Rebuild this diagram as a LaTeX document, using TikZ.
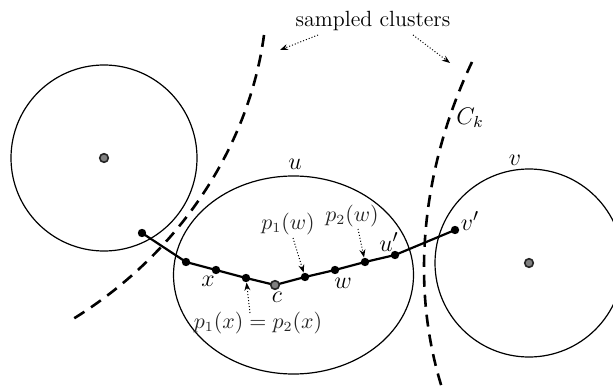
\documentclass[tikz,border=0pt]{standalone}
\usetikzlibrary{arrows.meta}
\begin{document}
\begin{tikzpicture}[x=0.5pt,y=-0.5pt,
  region/.style={draw, line width=0.6pt},
  sep/.style={line width=1.3pt, dash pattern=on 6pt off 4pt},
  pathline/.style={line width=1.1pt},
  pt/.style={circle, fill=black, inner sep=0pt, minimum size=4.2pt},
  ctr/.style={circle, fill=black!50, draw=black!85, line width=0.8pt, inner sep=0pt, minimum size=4.3pt},
  lbl/.style={font=\fontsize{11.5}{13}\selectfont, inner sep=0pt},
  plbl/.style={font=\fontsize{10.5}{12}\selectfont, text=black!85, inner sep=0pt},
  note/.style={densely dotted, line width=0.5pt, -{Stealth[length=4pt,width=3pt]}},
]
\useasboundingbox (0,0) rectangle (613,389);
\clip (0,0) rectangle (613,389);

% regions
\draw[region] (104,158) circle[radius=93];
\draw[region] (293.5,275) ellipse[x radius=120, y radius=99];
\draw[region] (529,263) circle[radius=94];

% cluster boundaries
\draw[sep] (264,35) .. controls (250,140) and (185,250) .. (73,319);
\draw[sep] (472,62) .. controls (430,150) and (405,270) .. (442,388);

% centers
\node[ctr] (cl) at (104,158) {};
\node[ctr] (cr) at (529,263) {};

% path coordinates
\coordinate (a1) at (142,233);
\coordinate (a2) at (186,262);
\coordinate (a3) at (216,270);
\coordinate (a4) at (246,278);
\coordinate (a5) at (275,285);
\coordinate (a6) at (305,277);
\coordinate (a7) at (335,270);
\coordinate (a8) at (365,262);
\coordinate (a9) at (395,255);
\coordinate (a10) at (455,230);
\draw[pathline] (a1) -- (a2) -- (a3) -- (a4) -- (a5) -- (a6) -- (a7) -- (a8) -- (a9) -- (a10);

\node[pt] (d1) at (a1) {};
\node[pt] (d2) at (a2) {};
\node[pt] (d3) at (a3) {};
\node[pt] (d4) at (a4) {};
\node[ctr] (d5) at (a5) {};
\node[pt] (d6) at (a6) {};
\node[pt] (d7) at (a7) {};
\node[pt] (d8) at (a8) {};
\node[pt] (d9) at (a9) {};
\node[pt] (d10) at (a10) {};

% labels
\node[lbl] (lu) at (295,164) {$u$};
\node[lbl] (lv) at (515,160) {$v$};
\node[lbl] (lck) at (470,118) {$C_k$};
\node[lbl] (lx) at (208,281) {$x$};
\node[lbl] (lc) at (277,297) {$c$};
\node[lbl] (lw) at (343,283) {$w$};
\node[lbl, font=\fontsize{12.5}{14}\selectfont] (lup) at (389,242) {$u^{\prime}$};
\node[lbl, font=\fontsize{12.5}{14}\selectfont] (lvp) at (470,221) {$v^{\prime}$};

\node[plbl] (p1w) at (288,224) {$p_1(w)$};
\node[plbl] (p2w) at (352,216) {$p_2(w)$};
\node[plbl] (p1x) at (258,323) {$p_1(x) = p_2(x)$};

\coordinate (s1) at (293,238);
\coordinate (s2) at (358,229);
\coordinate (s3) at (250,313);
\draw[note] (s1) -- (d6);
\draw[note] (s2) -- (d8);
\draw[note] (s3) -- (d4);

% sampled clusters
\node[font=\fontsize{11}{13}\selectfont] (sc) at (373,21) {sampled clusters};
\coordinate (t1) at (318,35);
\coordinate (t2) at (413,35);
\coordinate (h1) at (280,50);
\coordinate (h2) at (450,63);
\draw[note] (t1) -- (h1);
\draw[note] (t2) -- (h2);
\end{tikzpicture}
\end{document}
